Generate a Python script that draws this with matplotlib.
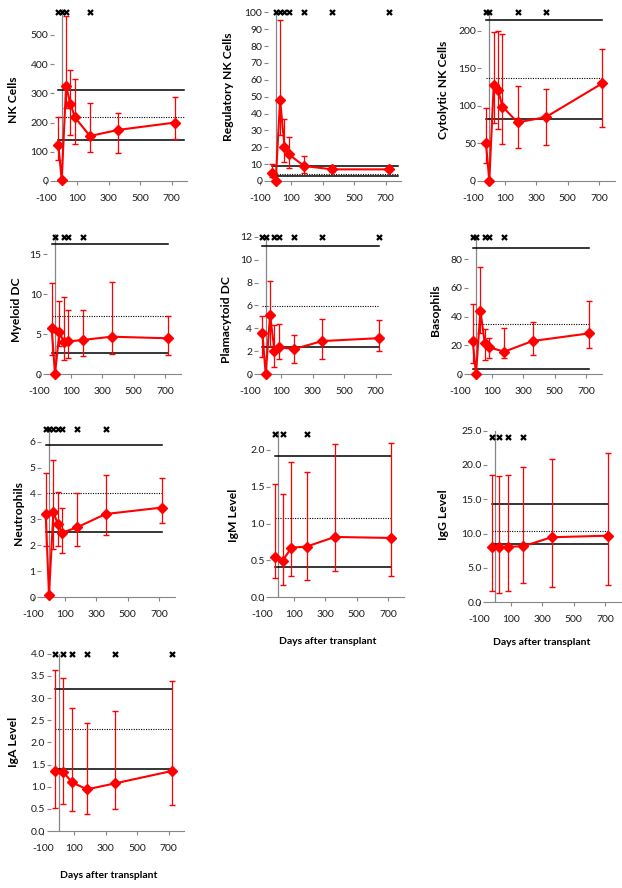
import numpy as np
import matplotlib.pyplot as plt

plt.rcParams['font.family'] = ['Lato', 'DejaVu Sans']

W, H = 622, 888

# sampling days (cell panels / immunoglobulin panels)
days = [-21, 0, 28, 56, 84, 180, 360, 720]
ig_days = [-21, 28, 84, 180, 360, 720]

# NK cells
nk = [123, 3, 325, 264, 218, 154, 175, 200]
nk_hi = [218, 3, 565, 380, 348, 268, 234, 288]
nk_lo = [72, 3, 250, 157, 127, 100, 97, 143]
nk_ref = [312, 218, 140]
nk_sig = [-21, 0, 28, 180]

# regulatory NK cells
reg = [4.9, 0, 48, 20.4, 15.8, 8.9, 6.9, 6.9]
reg_hi = [10, 0, 95.5, 37, 26, 14.6, 9, 8]
reg_lo = [2.6, 0, 27, 11, 8, 4.5, 5.5, 6]
reg_ref = [9.1, 4.1, 3.2]
reg_sig = [0, 28, 56, 84, 180, 360, 720]

# cytolytic NK cells
cyt = [50, 0, 127.7, 121, 99, 78, 85, 130]
cyt_hi = [97.6, 0, 198.7, 199, 196, 126, 123, 175.6]
cyt_lo = [23.5, 0, 77.6, 69, 49, 44, 48, 72]
cyt_ref = [214, 136.6, 83]
cyt_sig = [-21, 0, 180, 360]

# myeloid DC
mdc = [5.75, 0, 5.3, 4.0, 4.1, 4.3, 4.7, 4.5]
mdc_hi = [11.4, 0, 9.1, 9.7, 8.0, 8.0, 11.5, 7.3]
mdc_lo = [2.4, 0, 3.5, 1.8, 2.0, 2.3, 2.5, 2.4]
mdc_ref = [16.25, 7.3, 2.6]
mdc_sig = [0, 56, 84, 180]

# plasmacytoid DC
pdc = [3.6, 0, 5.2, 2.0, 2.35, 2.2, 2.9, 3.15]
pdc_hi = [5.1, 0, 8.1, 4.3, 4.4, 3.4, 4.8, 4.75]
pdc_lo = [1.5, 0, 2.5, 0.6, 1.3, 1.0, 1.3, 2.0]
pdc_ref = [11.2, 5.96, 2.4]
pdc_sig = [-21, 0, 56, 84, 180, 360, 720]

# basophils
bas = [23.4, 0, 44.2, 21.5, 18.7, 15.7, 23.1, 28.4]
bas_hi = [48.8, 0, 74.7, 31.2, 25, 31.9, 36, 51]
bas_lo = [7.6, 0, 28.4, 10, 11, 11, 13.4, 18.5]
bas_ref = [88, 34.7, 3.5]
bas_sig = [-21, 0, 56, 84, 180]

# neutrophils
neu = [3.21, 0.08, 3.30, 2.81, 2.49, 2.70, 3.21, 3.46]
neu_hi = [4.8, 0.08, 5.3, 4.07, 3.43, 4.01, 4.72, 4.59]
neu_lo = [1.98, 0.08, 1.86, 1.98, 1.70, 1.98, 2.40, 2.88]
neu_ref = [5.89, 4.01, 2.52]
neu_sig = [-21, 0, 28, 56, 84, 180, 360]

# IgM
igm = [0.552, 0.498, 0.674, 0.688, 0.819, 0.805]
igm_hi = [1.54, 1.40, 1.83, 1.70, 2.08, 2.09]
igm_lo = [0.258, 0.163, 0.29, 0.24, 0.362, 0.285]
igm_ref = [1.923, 1.08, 0.416]
igm_sig = [-21, 28, 180]

# IgG
igg = [8.1, 8.06, 8.1, 8.16, 9.47, 9.7]
igg_hi = [18.5, 18.4, 18.5, 19.7, 20.8, 21.8]
igg_lo = [1.7, 1.3, 1.7, 2.77, 2.23, 2.5]
igg_ref = [14.3, 10.4, 8.45]
igg_sig = [-21, 28, 84, 180]

# IgA
iga = [1.354, 1.34, 1.10, 0.94, 1.076, 1.354]
iga_hi = [3.63, 3.45, 2.77, 2.43, 2.71, 3.39]
iga_lo = [0.51, 0.60, 0.45, 0.38, 0.50, 0.59]
iga_ref = [3.2, 2.30, 1.39]
iga_sig = [-21, 28, 84, 180, 360, 720]

xticks = [-100, 100, 300, 500, 700]
GRAY = '#868686'

fig = plt.figure(figsize=(W / 100, H / 100), dpi=100)


def px_rect(left, y0, height, width=141.3):
    return [left / W, 1 - y0 / H, width / W, height / H]


def panel(rect, name, name_xy, x, y, lo, hi, ref, ref_end, sig, sig_y,
          ytop, yticks, fmt, xlab_xy=None):
    ax = fig.add_axes(rect)
    ax.set_xlim(-100, 800)
    ax.set_ylim(0, ytop)
    for sp in ['top', 'right']:
        ax.spines[sp].set_visible(False)
    ax.spines['left'].set_position(('data', -50))
    ax.spines['left'].set_color('none')
    ax.spines['bottom'].set_bounds(-50, 800)
    ax.spines['bottom'].set_color(GRAY)
    ax.axvline(0, color=GRAY, lw=0.9, zorder=1)

    # reference range lines
    ax.plot([x[0], ref_end], [ref[0], ref[0]], color='black', lw=1.1, zorder=2)
    ax.plot([x[0], ref_end], [ref[1], ref[1]], color='black', lw=0.8,
            ls=(0, (1, 1.2)), zorder=2)
    ax.plot([x[0], ref_end], [ref[2], ref[2]], color='black', lw=1.1, zorder=2)

    y = np.array(y)
    err = [y - np.array(lo), np.array(hi) - y]
    ax.errorbar(x, y, yerr=err, fmt='-D', color='red', ms=5.5, lw=1.5,
                elinewidth=0.9, capsize=2.2, capthick=1.0, zorder=3,
                clip_on=False)

    ax.plot(sig, [sig_y] * len(sig), 'x', color='black', ms=3.6, mew=1.6,
            clip_on=False, zorder=4)

    ax.set_xticks(xticks)
    ax.set_xticklabels([str(t) for t in xticks])
    ax.set_yticks(yticks)
    ax.set_yticklabels([fmt.format(t) for t in yticks])
    ax.tick_params(axis='y', length=3, width=0.8, color=GRAY, pad=1,
                   labelsize=7.5, labelcolor='#1a1a1a')
    ax.tick_params(axis='x', length=3, width=0.8, color=GRAY, pad=6.5,
                   labelsize=7.5, labelcolor='#1a1a1a')

    fig.text(name_xy[0] / W, 1 - name_xy[1] / H, name, rotation=90,
             ha='center', va='center', fontsize=8.7, fontweight='bold')
    if xlab_xy is not None:
        fig.text(xlab_xy[0] / W, 1 - xlab_xy[1] / H, 'Days after transplant',
                 ha='center', va='center', fontsize=7.5, fontweight='bold')
    return ax


panel(px_rect(46.0, 181, 172.3), 'NK Cells', (13.3, 100),
      days, nk, nk_lo, nk_hi, nk_ref, 780, nk_sig, 578,
      590, list(range(0, 501, 100)), '{:d}')
panel(px_rect(260.0, 181, 168.7), 'Regulatory NK Cells', (228.3, 86.7),
      days, reg, reg_lo, reg_hi, reg_ref, 780, reg_sig, 100,
      100, list(range(0, 101, 10)), '{:d}')
panel(px_rect(473.6, 181, 169.1), 'Cytolytic NK Cells', (443.3, 90),
      days, cyt, cyt_lo, cyt_hi, cyt_ref, 720, cyt_sig, 225,
      225, list(range(0, 201, 50)), '{:d}')
panel(px_rect(39.3, 374.3, 140), 'Myeloid DC', (16.7, 310),
      days, mdc, mdc_lo, mdc_hi, mdc_ref, 720, mdc_sig, 17.2,
      17.5, [0, 5, 10, 15], '{:d}')
panel(px_rect(250.0, 374.3, 137.6), 'Plamacytoid DC', (226.7, 320),
      days, pdc, pdc_lo, pdc_hi, pdc_ref, 720, pdc_sig, 12,
      12, list(range(0, 13, 2)), '{:d}')
panel(px_rect(460.3, 374.3, 138.3), 'Basophils', (435, 310),
      days, bas, bas_lo, bas_hi, bas_ref, 720, bas_sig, 95.5,
      96, list(range(0, 81, 20)), '{:d}')
panel(px_rect(33.3, 597.3, 168.6), 'Neutrophils', (18.3, 513.3),
      days, neu, neu_lo, neu_hi, neu_ref, 720, neu_sig, 6.49,
      6.5, list(range(0, 7)), '{:d}')
panel(px_rect(262.6, 597.3, 165.8), 'IgM Level', (233.3, 515),
      ig_days, igm, igm_lo, igm_hi, igm_ref, 720, igm_sig, 2.21,
      2.25, [0, 0.5, 1.0, 1.5, 2.0], '{:.1f}', (327.3, 641.7))
panel(px_rect(479.3, 602.3, 171.7), 'IgG Level', (443.3, 515),
      ig_days, igg, igg_lo, igg_hi, igg_ref, 720, igg_sig, 24.1,
      25, [0, 5, 10, 15, 20, 25], '{:.1f}', (541.7, 642.3))
panel(px_rect(43.0, 831, 177.2), 'IgA Level', (13.3, 741.7),
      ig_days, iga, iga_lo, iga_hi, iga_ref, 720, iga_sig, 4.0,
      4.0, [0, 0.5, 1.0, 1.5, 2.0, 2.5, 3.0, 3.5, 4.0], '{:.1f}',
      (108.3, 875))

fig.savefig('out.png', dpi=100)
